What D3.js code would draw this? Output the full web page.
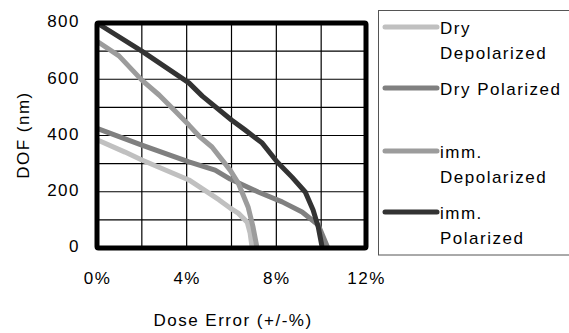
<!DOCTYPE html>
<html><head><meta charset="utf-8">
<script src="https://cdn.jsdelivr.net/npm/d3@7"></script>
<style>body{margin:0;background:#fff}svg{display:block}text{font-family:"Liberation Sans",Arial,sans-serif;fill:#000}</style>
</head><body><svg width="569" height="333"></svg>
<script>
const seriesNames = ["Dry Depolarized","Dry Polarized","imm. Depolarized","imm. Polarized"];
const legendLines = [["Dry","Depolarized"],["Dry Polarized"],["imm.","Depolarized"],["imm.","Polarized"]];
const seriesColors = ["#c0c0c0","#808080","#9c9c9c","#333333"];
const dryDepolX = [0,1.25,2.0,4.1,5.45,5.94,6.3,6.7,6.83,6.92];
const dryDepolY = [385,341,313,242,171,142,124,92,53,0];
const dryPolX = [0,2.0,4.1,5.27,5.94,7.19,8.26,9.15,9.87,10.3];
const dryPolY = [425,366,306,277,245,199,164,128,82,0];
const immDepolX = [0,0.98,2.0,2.77,3.44,4.1,4.55,5.13,5.94,6.3,6.74,6.96,7.14];
const immDepolY = [735,683,597,544,491,437,398,359,277,231,146,75,0];
const immPolX = [0,2.0,4.1,4.7,6.0,6.6,7.37,8.04,8.7,9.29,9.64,9.87,10.05];
const immPolY = [800,700,587,540,455,420,373,306,252,199,135,75,0];
const xTicks = [0,4,8,12];
const yTicks = [0,200,400,600,800];
const xGrid = [0,2,4,6,8,10,12];
const yGrid = [0,100,200,300,400,500,600,700,800];

const series = [[dryDepolX,dryDepolY],[dryPolX,dryPolY],[immDepolX,immDepolY],[immPolX,immPolY]]
  .map(([xs,ys],i)=>({name:seriesNames[i],color:seriesColors[i],pts:xs.map((x,j)=>[x,ys[j]])}));

const FS = 17, LS = 1.5;
const svg = d3.select("svg");
const x = d3.scaleLinear().domain([0,12]).range([97,366]);
const y = d3.scaleLinear().domain([0,800]).range([248,23]);

const g = svg.append("g");
g.selectAll(".vg").data(xGrid).join("line").attr("x1",d=>x(d)).attr("x2",d=>x(d))
  .attr("y1",y(800)).attr("y2",y(0)).attr("stroke","#000").attr("stroke-width",1.2);
g.selectAll(".hg").data(yGrid).join("line").attr("y1",d=>y(d)).attr("y2",d=>y(d))
  .attr("x1",x(0)).attr("x2",x(12)).attr("stroke","#000").attr("stroke-width",1.2);

const line = d3.line().x(d=>x(d[0])).y(d=>y(d[1]));
g.selectAll(".s").data(series).join("path").attr("d",d=>line(d.pts))
  .attr("fill","none").attr("stroke",d=>d.color).attr("stroke-width",5)
  .attr("stroke-linejoin","round").attr("stroke-linecap","butt");

g.append("rect").attr("x",x(0)).attr("y",y(800)).attr("width",x(12)-x(0)).attr("height",y(0)-y(800))
  .attr("fill","none").attr("stroke","#000").attr("stroke-width",5).attr("rx",1.5);

const xAxis = d3.axisBottom(x).tickValues(xTicks).tickFormat(d=>d+"%").tickSize(0).tickPadding(0);
const xa = svg.append("g").attr("transform","translate(0,"+y(0)+")").call(xAxis);
xa.select(".domain").remove();
xa.selectAll("text").attr("y",36).attr("dy",null).attr("font-size",FS).attr("letter-spacing",LS)
  .attr("font-family","Liberation Sans, Arial, sans-serif");

const yAxis = d3.axisLeft(y).tickValues(yTicks).tickSize(0).tickPadding(0);
const ya = svg.append("g").attr("transform","translate(80,0)").call(yAxis);
ya.select(".domain").remove();
ya.selectAll("text").attr("x",0).attr("dy","0.22em").attr("font-size",FS).attr("letter-spacing",LS)
  .attr("font-family","Liberation Sans, Arial, sans-serif");

svg.append("text").attr("x",233).attr("y",326).attr("text-anchor","middle")
  .attr("font-size",FS).attr("letter-spacing",LS).text("Dose Error (+/-%)");
svg.append("text").attr("transform","translate(29,135) rotate(-90)").attr("text-anchor","middle")
  .attr("font-size",FS).attr("letter-spacing",LS).text("DOF (nm)");

// legend
const lg = svg.append("g");
lg.append("rect").attr("x",378.5).attr("y",10.5).attr("width",200).attr("height",244.5)
  .attr("fill","#fff").attr("stroke","#555").attr("stroke-width",1);
const legY = [27,88,151,212];
series.forEach((s,i)=>{
  lg.append("line").attr("x1",385).attr("x2",437).attr("y1",legY[i]).attr("y2",legY[i])
    .attr("stroke",s.color).attr("stroke-width",5).attr("stroke-linecap","round");
  const t = lg.append("text").attr("x",440).attr("y",legY[i]+7).attr("font-size",FS).attr("letter-spacing",LS);
  legendLines[i].forEach((l,k)=>t.append("tspan").attr("x",440).attr("dy",k?25:0).text(l));
});
</script></body></html>
